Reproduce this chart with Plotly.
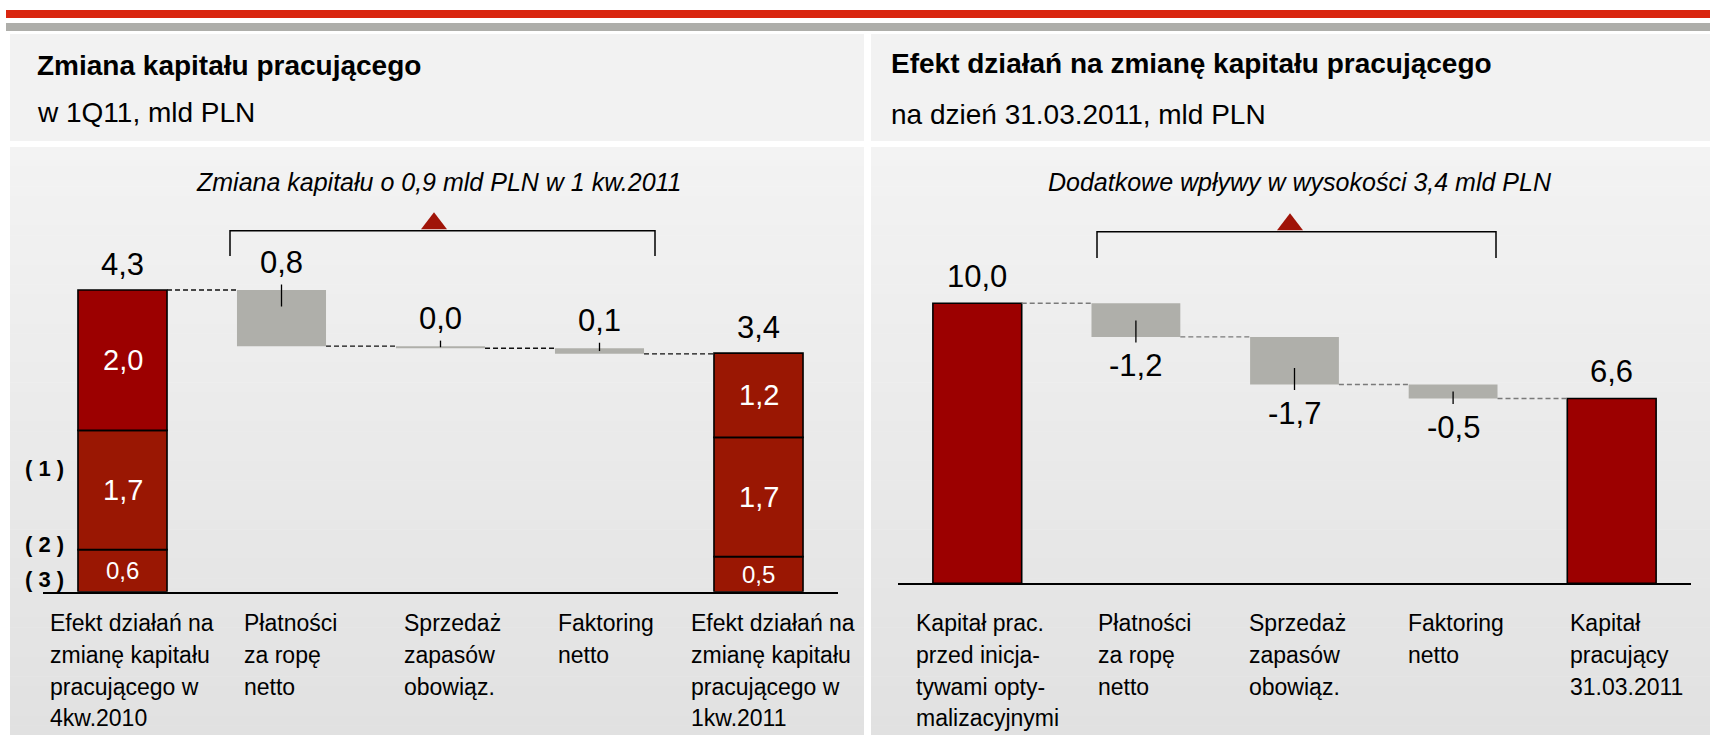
import plotly.graph_objects as go

# ---------------- DATA ----------------
left_categories = [
    "Efekt działań na\nzmianę kapitału\npracującego w\n4kw.2010",
    "Płatności\nza ropę\nnetto",
    "Sprzedaż\nzapasów\nobowiąz.",
    "Faktoring\nnetto",
    "Efekt działań na\nzmianę kapitału\npracującego w\n1kw.2011",
]
left_start_parts = [0.6, 1.7, 2.0]      # bottom -> top, 4kw.2010
left_changes = [0.8, 0.03, 0.08]        # decreases (shown as positive labels)
left_end_parts = [0.5, 1.7, 1.2]        # bottom -> top, 1kw.2011
footnote_labels = ["( 1 )", "( 2 )", "( 3 )"]

right_categories = [
    "Kapitał prac.\nprzed inicja-\ntywami opty-\nmalizacyjnymi",
    "Płatności\nza ropę\nnetto",
    "Sprzedaż\nzapasów\nobowiąz.",
    "Faktoring\nnetto",
    "Kapitał\npracujący\n31.03.2011",
]
right_start = 10.0
right_changes = [-1.2, -1.7, -0.5]
right_end = 6.6

left_title = "Zmiana kapitału pracującego"
left_subtitle = "w 1Q11, mld PLN"
left_note = "Zmiana kapitału o 0,9 mld PLN w 1 kw.2011"
right_title = "Efekt działań na zmianę kapitału pracującego"
right_subtitle = "na dzień 31.03.2011, mld PLN"
right_note = "Dodatkowe wpływy w wysokości 3,4 mld PLN"

# ---------------- STYLE / LAYOUT ----------------
W, H = 1710, 735
NARROW = "Liberation Sans Narrow, Arial Narrow, Liberation Sans, Arial, sans-serif"
SANS = "Liberation Sans, Arial, sans-serif"
RED_DARK = "#9C0000"
RED_SEG = "#9A1703"
GRAY_BAR = "#AFAFAA"
BAR_W = 0.56

L_AX = (43, 838)
L_ZERO = 591.7
L_SCALE = 70.16
R_AX = (898, 1691)
R_ZERO = 583.3
R_SCALE = 28.0
TOP = 147

VAL_FS = 31
CAT_FS = 23
CAT_BASE = 632.5
CAT_STEP = 31.7


def px(x):
    return x / W


def py(y):
    return 1 - y / H


def fmt(v):
    return f"{v:.1f}".replace(".", ",")


fig = go.Figure()
shapes = []
annotations = []

# ---- background ----
shapes.append(dict(type="rect", xref="paper", yref="paper", x0=px(6), x1=1, y0=py(10), y1=py(18),
                   fillcolor="#D9260F", line_width=0, layer="below"))
shapes.append(dict(type="rect", xref="paper", yref="paper", x0=px(6), x1=1, y0=py(23), y1=py(31),
                   fillcolor="#AEAEAA", line_width=0, layer="below"))
for xa, xb in [(10, 864), (871, 1710)]:
    shapes.append(dict(type="rect", xref="paper", yref="paper", x0=px(xa), x1=px(xb), y0=py(34), y1=py(141),
                       fillcolor="#F2F2F2", line_width=0, layer="below"))
N = 60
for k in range(N):
    y0 = TOP + (H - TOP) * k / N
    y1 = TOP + (H - TOP) * (k + 1) / N + 0.6
    t = (k + 0.5) / N
    c = round(243 - (243 - 225) * t)
    col = f"rgb({c},{c},{c})"
    for xa, xb in [(10, 864), (871, 1710)]:
        shapes.append(dict(type="rect", xref="paper", yref="paper", x0=px(xa), x1=px(xb),
                           y0=py(y1), y1=py(y0), fillcolor=col, line_width=0, layer="below"))


# ---- titles ----
def title_ann(text, x, baseline, size, bold=False):
    t = f"<b>{text}</b>" if bold else text
    annotations.append(dict(text=t, xref="paper", yref="paper", x=px(x), y=py(baseline + 1 + 0.212 * size),
                            xanchor="left", yanchor="bottom", showarrow=False,
                            font=dict(family=SANS, size=size, color="black")))


title_ann(left_title, 35, 76, 28, bold=True)
title_ann(left_subtitle, 35, 123, 28)
title_ann(right_title, 889, 74, 28, bold=True)
title_ann(right_subtitle, 889, 125, 28)


# ---- notes, brackets, triangles ----
def note(text, cx, baseline):
    s = 25
    annotations.append(dict(text=f"<i>{text}</i>", xref="paper", yref="paper", x=px(cx),
                            y=py(baseline + 1 + 0.212 * s), xanchor="center", yanchor="bottom",
                            showarrow=False, font=dict(family=NARROW, size=s, color="black")))


note(left_note, 439, 192)
note(right_note, 1300, 192)

for (xl, xr, yh, yb, tc) in [(230, 655, 230.7, 256, 434), (1097, 1496, 231.7, 258, 1290)]:
    shapes.append(dict(type="path", xref="paper", yref="paper",
                       path=f"M {px(xl)},{py(yb)} L {px(xl)},{py(yh)} L {px(xr)},{py(yh)} L {px(xr)},{py(yb)}",
                       line=dict(color="black", width=1.5)))
    shapes.append(dict(type="path", xref="paper", yref="paper",
                       path=f"M {px(tc-13)},{py(yh-1.5)} L {px(tc)},{py(yh-18.5)} L {px(tc+13)},{py(yh-1.5)} Z",
                       fillcolor="#A01408", line_width=0))


def category_labels(cats, dxs, xref):
    for i, lab in enumerate(cats):
        for k, line in enumerate(lab.split("\n")):
            base = CAT_BASE + CAT_STEP * k
            annotations.append(dict(text=line, x=i + dxs[i], y=py(base + 1 + 0.212 * CAT_FS), xref=xref,
                                    yref="paper", xanchor="left", yanchor="bottom", align="left",
                                    showarrow=False, font=dict(family=NARROW, size=CAT_FS, color="black")))


# ---------------- LEFT CHART ----------------
xs_total = [0, 4]
bases = [0.0, 0.0]
for j in range(3):
    vals = [left_start_parts[j], left_end_parts[j]]
    colors = [RED_DARK if j == 2 else RED_SEG, RED_SEG]
    fig.add_trace(go.Bar(x=xs_total, y=vals, base=list(bases), width=BAR_W,
                         marker=dict(color=colors, line=dict(color="black", width=1.6)),
                         xaxis="x", yaxis="y", hoverinfo="skip", showlegend=False))
    for i, xv in enumerate(xs_total):
        mid = bases[i] + vals[i] / 2
        annotations.append(dict(text=fmt(vals[i]), x=xv, y=mid, xref="x", yref="y",
                                xanchor="center", yanchor="middle", showarrow=False,
                                font=dict(family=NARROW, size=24 if j == 0 else 29, color="white")))
    bases = [bases[0] + vals[0], bases[1] + vals[1]]

left_total_start = sum(left_start_parts)
left_total_end = sum(left_end_parts)

gx, gbase, gy = [], [], []
level = left_total_start
levels = [level]
for i, c in enumerate(left_changes):
    gx.append(i + 1)
    gbase.append(level - c)
    gy.append(c)
    level -= c
    levels.append(level)
fig.add_trace(go.Bar(x=gx, y=gy, base=gbase, width=BAR_W, marker=dict(color=GRAY_BAR, line_width=0),
                     xaxis="x", yaxis="y", hoverinfo="skip", showlegend=False))

for xv, tot in [(0, left_total_start), (4, left_total_end)]:
    annotations.append(dict(text=fmt(tot), x=xv, y=tot, xref="x", yref="y", xanchor="center",
                            yanchor="bottom", yshift=6.5, showarrow=False,
                            font=dict(family=NARROW, size=VAL_FS, color="black")))
for i, c in enumerate(left_changes):
    top = gbase[i] + gy[i]
    annotations.append(dict(text=fmt(c), x=gx[i], y=top, xref="x", yref="y", xanchor="center",
                            yanchor="bottom", yshift=8.5, showarrow=False,
                            font=dict(family=NARROW, size=VAL_FS, color="black")))
    hpx = gy[i] * L_SCALE
    shapes.append(dict(type="line", xref="x", yref="y", ysizemode="pixel", yanchor=top,
                       x0=gx[i], x1=gx[i], y0=5.5, y1=-min(16.5, hpx / 2),
                       line=dict(color="black", width=1.3)))
for i in range(4):
    shapes.append(dict(type="line", xref="x", yref="y", x0=i + BAR_W / 2, x1=i + 1 - BAR_W / 2,
                       y0=levels[i], y1=levels[i], line=dict(color="#111111", width=1.3, dash="5px,3px")))

category_labels(left_categories, [-0.469, -0.248, -0.242, -0.274, -0.437], "x")

for lab, yc in zip(footnote_labels, [469, 544, 579]):
    annotations.append(dict(text=f"<b>{lab}</b>", x=px(44), y=py(yc), xref="paper", yref="paper",
                            xanchor="center", yanchor="middle", showarrow=False,
                            font=dict(family=NARROW, size=22, color="black")))

# ---------------- RIGHT CHART ----------------
fig.add_trace(go.Bar(x=[0, 4], y=[right_start, right_end], width=BAR_W,
                     marker=dict(color=RED_DARK, line=dict(color="black", width=1.6)),
                     xaxis="x2", yaxis="y2", hoverinfo="skip", showlegend=False))
rx, rbase, ry = [], [], []
level = right_start
rlevels = [level]
for i, c in enumerate(right_changes):
    rx.append(i + 1)
    rbase.append(level + c)
    ry.append(-c)
    level += c
    rlevels.append(level)
fig.add_trace(go.Bar(x=rx, y=ry, base=rbase, width=BAR_W, marker=dict(color=GRAY_BAR, line_width=0),
                     xaxis="x2", yaxis="y2", hoverinfo="skip", showlegend=False))

for xv, tot in [(0, right_start), (4, right_end)]:
    annotations.append(dict(text=fmt(tot), x=xv, y=tot, xref="x2", yref="y2", xanchor="center",
                            yanchor="bottom", yshift=7.4, showarrow=False,
                            font=dict(family=NARROW, size=VAL_FS, color="black")))
for i, c in enumerate(right_changes):
    bottom = rbase[i]
    annotations.append(dict(text=fmt(c), x=rx[i], y=bottom, xref="x2", yref="y2", xanchor="center",
                            yanchor="top", yshift=-9, showarrow=False,
                            font=dict(family=NARROW, size=VAL_FS, color="black")))
    hpx = ry[i] * R_SCALE
    shapes.append(dict(type="line", xref="x2", yref="y2", ysizemode="pixel", yanchor=bottom,
                       x0=rx[i], x1=rx[i], y0=-5.5, y1=min(16.5, hpx / 2),
                       line=dict(color="black", width=1.3)))
for i in range(4):
    shapes.append(dict(type="line", xref="x2", yref="y2", x0=i + BAR_W / 2, x1=i + 1 - BAR_W / 2,
                       y0=rlevels[i], y1=rlevels[i], line=dict(color="#7A7A7A", width=1.4, dash="5px,3px")))

category_labels(right_categories, [-0.40, -0.25, -0.30, -0.30, -0.276], "x2")

# ---------------- AXES ----------------
axis_common = dict(range=[-0.5, 4.5], showline=True, linecolor="black", linewidth=2, showticklabels=False,
                   ticks="", showgrid=False, zeroline=False, fixedrange=True)
fig.update_layout(
    width=W, height=H, margin=dict(l=0, r=0, t=0, b=0),
    paper_bgcolor="white", plot_bgcolor="rgba(0,0,0,0)",
    barmode="overlay", showlegend=False,
    xaxis=dict(domain=[px(L_AX[0]), px(L_AX[1])], anchor="y", **axis_common),
    yaxis=dict(domain=[py(L_ZERO), py(TOP)], range=[0, (L_ZERO - TOP) / L_SCALE], visible=False,
               fixedrange=True),
    xaxis2=dict(domain=[px(R_AX[0]), px(R_AX[1])], anchor="y2", **axis_common),
    yaxis2=dict(domain=[py(R_ZERO), py(TOP)], range=[0, (R_ZERO - TOP) / R_SCALE], visible=False,
                fixedrange=True),
    shapes=shapes, annotations=annotations,
)

fig.write_html(
    "out.html",
    config={"displayModeBar": False},
    post_script="document.body.style.margin='0px';document.body.style.padding='0px';"
                "document.body.style.overflow='hidden';",
)
